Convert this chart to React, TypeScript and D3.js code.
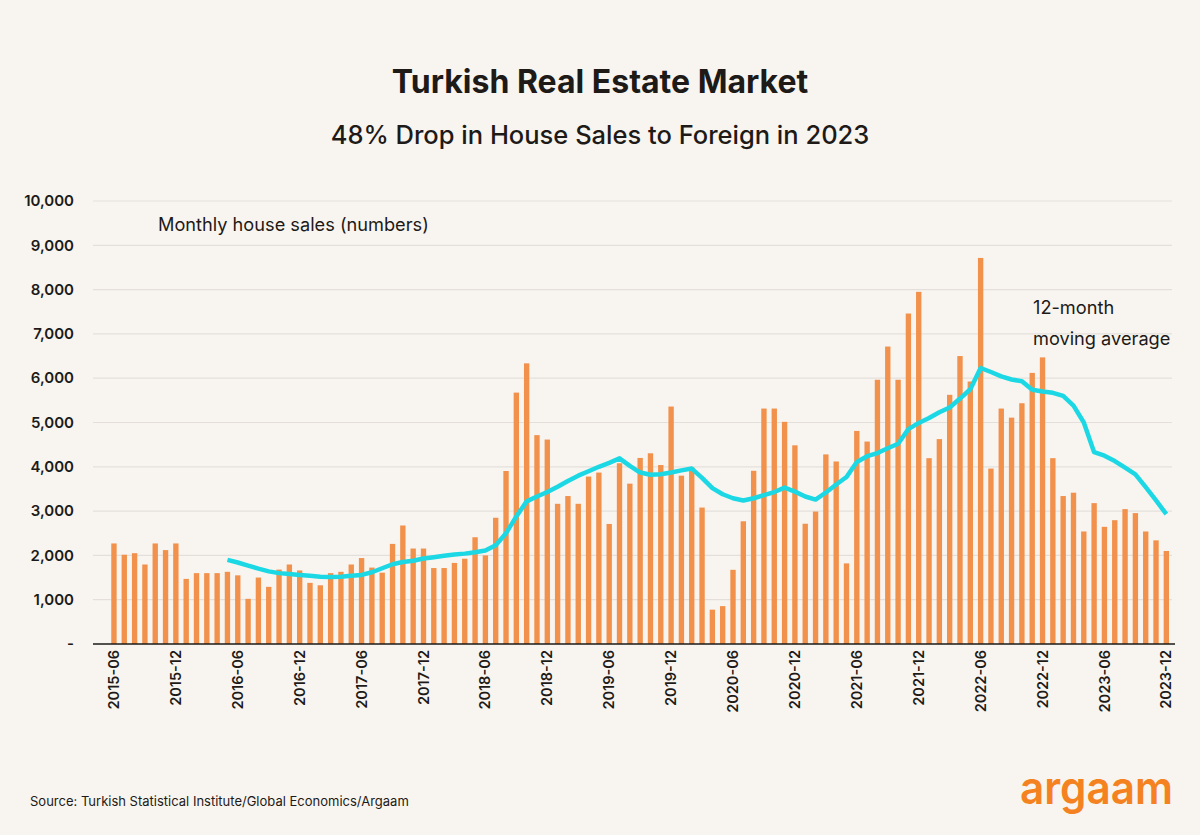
import { useEffect, useRef } from "react";
import * as d3 from "d3";

// Monthly house sales to foreigners, 2015-06 .. 2023-12
const sales = [
  2270, 2015, 2050, 1795, 2270, 2120, 2270, 1470, 1600, 1600, 1600, 1630,
  1550, 1020, 1500, 1290, 1680, 1795, 1660, 1380, 1325, 1600, 1630, 1795,
  1940, 1725, 1610, 2260, 2675, 2155, 2155, 1715, 1715, 1830, 1925, 2410,
  2000, 2850, 3905, 5675, 6335, 4715, 4615, 3165, 3340, 3165, 3780, 3870,
  2710, 4080, 3620, 4200, 4305, 4040, 5360, 3800, 3985, 3080, 775, 855,
  1675, 2770, 3910, 5315, 5315, 5015, 4485, 2715, 2990, 4280, 4120, 1820,
  4810, 4570, 5965, 6715, 5965, 7460, 7950, 4195, 4625, 5625, 6500, 5925,
  8715, 3960, 5315, 5110, 5435, 6120, 6470, 4195, 3340, 3415, 2540, 3180,
  2645, 2795, 3045, 2955, 2540, 2340, 2100,
];

// 12-month moving average, starting at 2016-05
const movingAvg = [
  1900, 1840, 1770, 1700, 1640, 1600, 1580, 1560, 1540, 1520, 1510, 1520,
  1540, 1560, 1620, 1710, 1800, 1850, 1880, 1930, 1960, 1990, 2020, 2040,
  2070, 2110, 2230, 2500, 2880, 3220, 3330, 3430, 3550, 3680, 3800, 3900,
  4000, 4090, 4190, 4020, 3870, 3820, 3830, 3870, 3920, 3960, 3750, 3520,
  3380, 3290, 3240, 3290, 3360, 3430, 3530, 3440, 3330, 3260, 3420, 3600,
  3770, 4110, 4240, 4310, 4420, 4520, 4850, 4990, 5100, 5230, 5340, 5540,
  5750, 6230, 6140, 6040, 5970, 5930, 5740, 5700, 5670, 5600, 5380, 5000,
  4330, 4250, 4130, 3980, 3830, 3540, 3240, 2930,
];
const maStart = 11;

const yTicks = [0, 1000, 2000, 3000, 4000, 5000, 6000, 7000, 8000, 9000, 10000];

const months = d3
  .timeMonths(new Date(2015, 5, 1), new Date(2024, 0, 1))
  .map((d) => d3.timeFormat("%Y-%m")(d));

const W = 1200;
const H = 835;

function Chart() {
  const svgRef = useRef<SVGSVGElement>(null);

  useEffect(() => {
    if (!svgRef.current) return;
    document.body.style.margin = "0";
    const svg = d3.select(svgRef.current);
    svg.selectAll("*").remove();

    const font = "Inter, 'Noto Sans', sans-serif";
    const left = 93;
    const right = 1172;
    const top = 201;
    const bottom = 644;

    svg.append("rect").attr("width", W).attr("height", H).attr("fill", "#f8f5f1");

    const x = d3
      .scaleBand()
      .domain(months)
      .range([108.8, 1171.5])
      .paddingInner(0.48)
      .paddingOuter(0.24);
    const y = d3.scaleLinear().domain([0, 10000]).range([bottom, top]);

    // titles
    svg
      .append("text")
      .attr("x", 600)
      .attr("y", 93)
      .attr("text-anchor", "middle")
      .attr("font-family", font)
      .attr("font-size", 32)
      .attr("font-weight", 700)
      .attr("fill", "#1d1a17")
      .text("Turkish Real Estate Market");
    svg
      .append("text")
      .attr("x", 600)
      .attr("y", 144)
      .attr("text-anchor", "middle")
      .attr("font-family", font)
      .attr("font-size", 25.5)
      .attr("font-weight", 500)
      .attr("fill", "#1d1a17")
      .text("48% Drop in House Sales to Foreign in 2023");

    // grid + y labels
    const grid = svg.append("g");
    grid
      .selectAll("line")
      .data(yTicks.filter((t) => t > 0))
      .join("line")
      .attr("x1", left)
      .attr("x2", right)
      .attr("y1", (d) => y(d))
      .attr("y2", (d) => y(d))
      .attr("stroke", "#e4dfda")
      .attr("stroke-width", 1.2);
    grid
      .selectAll("text")
      .data(yTicks)
      .join("text")
      .attr("x", 74)
      .attr("y", (d) => y(d))
      .attr("dy", "0.35em")
      .attr("text-anchor", "end")
      .attr("font-family", font)
      .attr("font-size", 15)
      .attr("font-weight", 600)
      .attr("fill", "#1d1a17")
      .text((d) => (d === 0 ? "-" : d3.format(",")(d)));

    // bars
    svg
      .append("g")
      .selectAll("rect")
      .data(sales)
      .join("rect")
      .attr("x", (_, i) => x(months[i]) ?? 0)
      .attr("width", x.bandwidth())
      .attr("y", (d) => y(d))
      .attr("height", (d) => bottom - y(d))
      .attr("fill", "#f2914c");

    // baseline
    svg
      .append("line")
      .attr("x1", left)
      .attr("x2", 1175)
      .attr("y1", bottom)
      .attr("y2", bottom)
      .attr("stroke", "#1d1a17")
      .attr("stroke-width", 1.5);

    // moving average
    const line = d3
      .line<number>()
      .x((_, i) => (x(months[i + maStart]) ?? 0) + x.bandwidth() / 2)
      .y((d) => y(d));
    svg
      .append("path")
      .attr("d", line(movingAvg))
      .attr("fill", "none")
      .attr("stroke", "#1cd8e4")
      .attr("stroke-width", 4.5)
      .attr("stroke-linejoin", "round");

    // x labels every 6 months
    svg
      .append("g")
      .selectAll("text")
      .data(months.filter((_, i) => i % 6 === 0 || i === months.length - 1))
      .join("text")
      .attr(
        "transform",
        (d) => `translate(${(x(d) ?? 0) + x.bandwidth() / 2},${bottom + 6}) rotate(-90)`
      )
      .attr("dy", "0.35em")
      .attr("text-anchor", "end")
      .attr("font-family", font)
      .attr("font-size", 14.5)
      .attr("font-weight", 600)
      .attr("fill", "#1d1a17")
      .text((d) => d);

    // annotations
    const note = (tx: number, ty: number, s: string) =>
      svg
        .append("text")
        .attr("x", tx)
        .attr("y", ty)
        .attr("font-family", font)
        .attr("font-size", 18.2)
        .attr("fill", "#1d1a17")
        .text(s);
    note(158, 231, "Monthly house sales (numbers)");
    note(1033, 314, "12-month");
    note(1033, 345, "moving average");

    svg
      .append("text")
      .attr("x", 30)
      .attr("y", 806)
      .attr("font-family", font)
      .attr("font-size", 13)
      .attr("fill", "#1d1a17")
      .text("Source: Turkish Statistical Institute/Global Economics/Argaam");

    svg
      .append("text")
      .attr("x", 1020)
      .attr("y", 804)
      .attr("font-family", font)
      .attr("font-size", 46)
      .attr("font-weight", 600)
      .attr("textLength", 153)
      .attr("lengthAdjust", "spacingAndGlyphs")
      .attr("fill", "#f58220")
      .text("argaam");

    return () => {
      svg.selectAll("*").remove();
    };
  }, []);

  return <svg ref={svgRef} width={W} height={H} style={{ display: "block" }} />;
}

export default function App() {
  return <Chart />;
}
